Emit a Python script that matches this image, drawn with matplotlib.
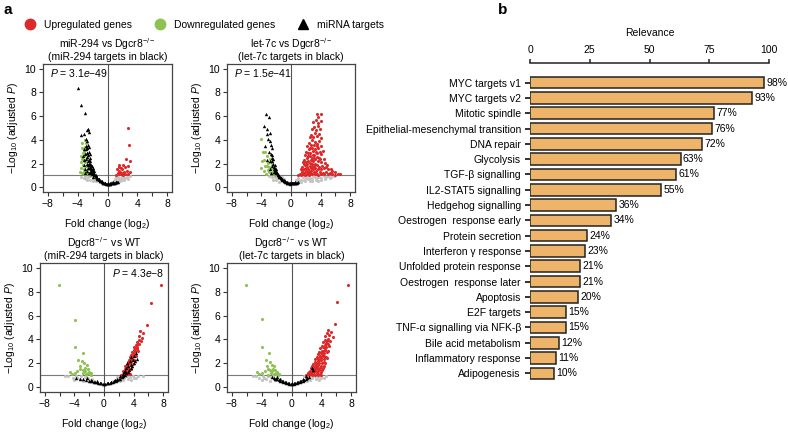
import matplotlib
matplotlib.use("Agg")
import matplotlib.pyplot as plt
from matplotlib.lines import Line2D

plt.rcParams['font.family'] = ['Liberation Sans', 'DejaVu Sans']
plt.rcParams['mathtext.fontset'] = 'custom'
plt.rcParams['mathtext.rm'] = 'Liberation Sans'
plt.rcParams['mathtext.it'] = 'Liberation Sans:italic'
plt.rcParams['mathtext.bf'] = 'Liberation Sans:bold'

# ---------------- data: panel b ----------------
pathways = ["MYC targets v1", "MYC targets v2", "Mitotic spindle",
            "Epithelial-mesenchymal transition", "DNA repair", "Glycolysis",
            "TGF-β signalling", "IL2-STAT5 signalling", "Hedgehog signalling",
            "Oestrogen  response early", "Protein secretion", "Interferon γ response",
            "Unfolded protein response", "Oestrogen  response later", "Apoptosis",
            "E2F targets", "TNF-α signalling via NFK-β", "Bile acid metabolism",
            "Inflammatory response", "Adipogenesis"]
relevance = [98, 93, 77, 76, 72, 63, 61, 55, 36, 34, 24, 23, 21, 21, 20, 15, 15, 12, 11, 10]
relevance_ticks = [0, 25, 50, 75, 100]

# ---------------- data: panel a (volcano points) ----------------
P1_GRAY = [(-3.2,0.8),(-2.9,0.7),(-2.6,0.85),(-2.3,0.6),(-2.0,0.75),(-1.7,0.6),(-3.5,0.9),(-2.4,0.95),
           (-1.5,0.5),(0.6,0.45),(0.9,0.55),(1.2,0.6),(1.5,0.7),(1.8,0.8),(2.1,0.9),(2.4,0.75),(1.7,0.55),
           (2.0,0.65),(2.6,0.85),(3.0,0.95),(1.0,0.7),(1.4,0.85),(2.2,0.6),(-1.9,0.55),(-2.7,0.65),(-3.0,0.95),
           (1.1,0.9),(1.9,0.95),(2.8,0.7)]
P1_GREEN = [(-3.4,1.2),(-3.2,1.5),(-3.5,2.1),(-3.3,2.9),(-3.0,3.4),(-3.4,3.7),(-2.8,3.3),(-3.1,1.1),
            (-2.9,1.8),(-3.2,2.3),(-3.5,1.6),(-2.7,1.2),(-2.5,1.1),(-2.3,1.05),(-3.6,2.6),(-3.0,2.1),
            (-2.8,2.5),(-3.3,1.9),(-2.6,1.5),(-3.1,3.0),(-2.4,1.6),(-3.7,1.3),(-3.0,4.0),(-2.9,3.7),
            (-3.2,1.3),(-2.2,1.15),(-2.0,1.05),(-3.4,2.4),(-3.1,2.65),(-2.95,1.45),(-3.35,3.3),(-2.65,1.85)]
P1_RED = [(1.2,1.05),(1.4,1.2),(1.5,1.1),(1.6,1.4),(1.7,1.3),(1.8,1.6),(1.9,1.2),(2.0,1.5),(2.1,1.9),
          (2.2,1.3),(2.3,1.7),(2.5,2.4),(2.95,2.2),(2.6,1.4),(2.8,1.1),(3.0,1.3),(1.3,1.5),(1.6,1.9),
          (2.4,1.15),(2.7,1.8),(2.93,3.6),(2.7,5.0),(1.5,1.7),(1.8,1.1),(2.1,1.05)]
P1_BLACK = [(1.4,0.47),(1.3,0.45),(1.2,0.43),(1.1,0.42),(1.0,0.40),(0.9,0.38),(0.8,0.37),(0.7,0.35),
            (0.6,0.33),(0.5,0.32),(0.4,0.31),(0.3,0.30),(0.2,0.29),(0.1,0.29),(0.0,0.29),(-0.1,0.30),
            (-0.2,0.31),(-0.3,0.32),(-0.4,0.34),(-0.5,0.36),(-0.6,0.39),(-0.7,0.42),(-0.8,0.46),(-0.9,0.50),
            (-1.0,0.55),(-1.1,0.60),(-1.2,0.66),(-1.3,0.72),(-1.4,0.79),(-1.5,0.86),(-1.6,0.94),(-1.7,1.02),
            (-1.8,1.11),(-1.9,1.20),(-2.0,1.30),(-2.1,1.42),(-2.2,1.55),(-2.3,1.70),(-2.4,1.85),(-2.5,2.00),
            (-2.6,2.25),(-2.7,2.55),(-2.8,2.90),(-2.85,3.20),(-2.9,3.50),
            (0.8,0.42),(0.4,0.36),(0.0,0.34),(-0.4,0.39),(-0.8,0.52),(-1.2,0.73),(-1.6,1.02),(-2.0,1.42),
            (-2.3,1.85),(-2.5,2.3),(-2.7,2.9),(-0.6,0.34),(-1.0,0.50),(-1.4,0.72),(-1.8,1.0),(-2.2,1.35),
            (-2.4,1.6),(-2.6,1.9),
            (-2.2,1.9),(-2.4,2.5),(-2.5,3.0),(-2.3,2.2),(-2.0,1.6),(-1.8,1.4),(-2.6,1.6),(-2.7,2.0),
            (-2.9,2.4),(-3.0,2.8),(-2.2,1.2),(-1.9,0.9),(-2.4,1.3),(-2.6,3.6),(-2.7,3.9),(-2.5,3.4),
            (-2.9,4.1),(-3.1,4.5),(-2.8,4.8),(-2.55,4.9),(-2.45,4.7),(-3.6,4.4),(-3.0,6.25),(-3.55,6.9),
            (-4.0,8.35),(-2.4,2.8),(-2.1,1.8),(-3.2,3.2),(-3.3,2.6),(-3.1,1.9),(-2.8,1.4),(-2.5,1.2),
            (-3.0,1.5),(-2.75,3.3),(-2.65,2.7),(-2.35,2.0),(-2.15,1.65),(-3.1,2.3),(-2.95,1.2),(-2.05,1.1)]

P2_GRAY = [(0.5,0.4),(0.8,0.5),(1.1,0.55),(1.4,0.65),(1.7,0.6),(2.0,0.75),(2.3,0.7),(2.6,0.8),(2.9,0.72),
           (3.2,0.85),(3.5,0.78),(3.8,0.9),(4.1,0.82),(4.4,0.92),(4.7,0.85),(5.0,0.95),(5.4,0.9),(5.8,0.95),
           (1.0,0.8),(1.6,0.9),(2.2,0.95),(2.8,0.55),(3.4,0.6),(4.0,0.65),(1.3,0.45),(2.5,0.5),(0.7,0.65),
           (1.9,0.5),(3.0,0.95),(4.6,0.7),(-0.5,0.45),(-1.0,0.7),(-1.4,0.6),(-1.8,0.8),(-2.2,0.9),
           (-2.6,0.85),(-3.0,0.95),(-1.6,0.45),(-2.0,0.65),(-2.4,0.6),(-1.2,0.85),(3.6,0.5),(5.2,0.75)]
P2_GREEN = [(-4.1,4.1),(-3.8,3.0),(-3.6,2.3),(-3.3,1.8),(-3.7,1.35),(-3.4,1.1),(-2.95,1.25),(-2.75,1.55),
            (-3.05,2.05),(-3.25,2.6),(-2.6,1.1),(-2.4,1.3),(-3.55,1.8),(-3.15,1.45),(-2.85,2.4),
            (-2.55,1.85),(-2.2,1.15),(-4.0,1.6),(-2.95,1.75),(-3.45,2.95),(-2.65,2.15),(-2.35,1.6),
            (-3.85,2.2),(-2.15,1.05)]
P2_RED = [(1.0,1.05),(1.2,1.15),(1.35,1.02),(1.5,1.3),(1.6,1.1),(1.75,1.22),(1.9,1.05),(2.0,1.4),
          (2.15,1.12),(2.3,1.28),(2.45,1.04),(2.6,1.18),(2.75,1.35),(2.9,1.08),(3.05,1.25),(3.2,1.1),
          (3.35,1.38),(3.5,1.15),(3.7,1.05),(3.9,1.3),(4.1,1.12),(4.3,1.22),(4.5,1.08),(4.75,1.3),
          (5.0,1.15),(5.3,1.2),(5.6,1.1),(5.9,1.05),(5.5,1.35),(6.3,1.15),(6.6,1.1),(6.0,1.3),
          (1.3,1.55),(1.55,1.7),(1.7,1.5),(1.85,1.85),(2.05,1.6),(2.2,1.95),(2.35,1.55),(2.5,1.8),
          (2.65,1.62),(2.8,2.0),(2.95,1.52),(3.1,1.78),(3.25,1.6),(3.45,1.9),(3.6,1.55),(3.8,1.75),
          (4.0,1.5),(4.2,1.8),(4.45,1.6),(4.7,1.7),(5.0,1.5),(4.9,1.9),(5.4,1.55),
          (1.6,2.1),(1.8,2.3),(2.0,2.15),(2.15,2.45),(2.3,2.2),(2.5,2.6),(2.65,2.3),(2.8,2.5),(3.0,2.2),
          (3.15,2.7),(3.3,2.35),(3.5,2.55),(3.7,2.2),(3.9,2.4),(4.1,2.15),(4.4,2.35),(4.6,2.05),
          (1.85,2.75),(2.05,3.0),(2.25,2.85),(2.45,3.2),(2.6,2.9),(2.8,3.35),(3.0,3.05),(3.2,3.25),
          (3.4,2.95),(3.6,3.3),(3.85,3.0),(4.1,2.8),(4.3,3.1),
          (2.2,3.5),(2.45,3.75),(2.7,3.6),(2.9,3.95),(3.1,3.55),(3.3,3.8),(3.55,3.65),(3.8,3.9),(4.05,3.5),
          (2.5,4.2),(2.75,4.45),(3.0,4.2),(3.25,4.6),(3.5,4.3),(3.75,4.5),(4.0,4.15),
          (2.8,4.9),(3.1,5.1),(3.4,4.85),(3.7,5.2),(3.95,4.95),
          (3.0,5.5),(3.35,5.7),(3.65,5.45),(4.1,5.6),(3.45,6.2),(3.7,5.95),(4.05,6.2),
          (1.45,1.42),(1.95,1.3),(2.4,1.4),(2.85,1.7),(3.3,1.95),(3.75,2.45),(2.1,1.75),(2.55,2.05),
          (3.05,2.45),(3.55,2.85),(1.7,1.95),(2.35,2.6),(2.95,2.75),(3.45,3.45),(2.6,3.35)]
P2_BLACK = [(0.9,0.42),(0.8,0.40),(0.7,0.38),(0.6,0.36),(0.5,0.35),(0.4,0.34),(0.3,0.33),(0.2,0.32),
            (0.1,0.32),(0.0,0.32),(-0.1,0.33),(-0.2,0.34),(-0.3,0.36),(-0.4,0.38),(-0.5,0.40),(-0.6,0.43),
            (-0.7,0.46),(-0.8,0.50),(-0.9,0.54),(-1.0,0.58),(-1.1,0.63),(-1.2,0.68),(-1.3,0.74),(-1.4,0.80),
            (-1.5,0.87),(-1.6,0.95),(-1.7,1.03),(-1.8,1.12),(-1.9,1.22),(-2.0,1.33),(-2.1,1.45),(-2.2,1.58),
            (-2.3,1.75),(-2.4,1.95),(-2.5,2.2),(-2.6,2.5),(-2.7,2.8),
            (-0.5,0.36),(-1.0,0.52),(-1.4,0.74),(-1.8,1.02),(-2.1,1.3),(-2.3,1.55),(0.3,0.38),(-0.2,0.30),
            (-1.2,0.62),(-1.6,0.86),(-2.0,1.2),(-2.2,1.4),(0.6,0.41),(-0.8,0.45),
            (-3.4,6.2),(-3.0,5.9),(-3.6,5.2),(-3.2,4.9),(-2.9,4.6),(-3.1,4.1),(-2.8,3.9),(-2.6,3.3),
            (-3.0,3.0),(-2.7,3.6),(-2.5,2.7),(-2.8,2.2),(-2.4,2.4),(-2.2,1.9),(-2.6,1.8),(-2.9,1.5),
            (-2.3,1.3),(-2.0,1.5),(-3.3,2.3),(-2.7,1.2),(-3.5,3.5),(-3.3,4.5)]

P3_GRAY = [(-4.8,0.9),(-4.2,0.8),(-3.6,0.75),(-3.1,0.9),(-2.6,0.85),(-2.1,0.8),(-1.6,0.7),(-4.0,0.6),
           (-3.3,0.65),(-2.9,0.55),(-2.0,0.6),(1.5,0.6),(1.9,0.7),(2.3,0.8),(2.7,0.75),(3.1,0.9),
           (3.5,0.85),(3.9,0.95),(4.3,0.8),(1.7,0.85),(2.1,0.55),(2.5,0.6),(3.3,0.7),(2.9,0.95),
           (3.7,0.6),(4.0,0.75),(-1.3,0.55),(1.2,0.5),(4.6,0.9),(5.2,0.95),(-5.2,0.95),(-2.4,0.95),
           (-3.8,0.95)]
P3_GREEN = [(-6.1,8.56),(-3.9,5.6),(-3.9,3.4),(-2.9,2.85),(-3.5,2.3),(-3.0,2.2),(-2.7,2.0),(-3.3,1.8),
            (-2.5,1.6),(-2.2,1.5),(-3.6,1.4),(-2.0,1.3),(-2.8,1.2),(-2.4,1.1),(-1.9,1.1),(-3.9,1.2),
            (-4.3,1.1),(-2.1,1.2),(-2.6,1.35),(-1.7,1.15),(-3.2,1.5),(-2.3,1.9),(-4.6,1.25),(-2.9,1.45),
            (-1.8,1.05)]
P3_RED = [(2.3,1.02),(2.5,1.1),(2.7,1.05),(2.9,1.2),(3.1,1.1),(3.3,1.25),(3.5,1.08),
          (2.6,1.35),(2.8,1.5),(3.0,1.4),(3.2,1.6),(3.4,1.45),(3.6,1.55),
          (2.9,1.75),(3.1,1.9),(3.3,1.8),(3.5,2.0),(3.7,1.85),(3.9,1.95),
          (3.2,2.15),(3.4,2.3),(3.6,2.2),(3.8,2.4),(4.0,2.25),
          (3.5,2.55),(3.7,2.7),(3.9,2.6),(4.1,2.8),(4.3,2.65),
          (3.8,2.95),(4.0,3.1),(4.2,3.0),(4.4,3.2),(4.6,3.05),
          (4.1,3.35),(4.3,3.5),(4.5,3.4),(4.7,3.6),
          (4.5,3.8),(4.75,3.95),(5.0,3.85),(5.1,4.15),
          (4.7,4.3),(4.9,4.7),(5.3,4.5),(5.8,5.25),(6.3,7.08),(7.7,8.56),
          (2.75,1.25),(3.05,1.65),(3.35,2.05),(3.65,2.45),(3.95,2.85),(4.25,3.25),(4.55,3.6)]
P3_BLACK = [(-3.2,0.7),(-2.8,0.65),(-2.4,0.6),(-2.0,0.55),(-1.8,0.52),(-1.6,0.5),(-1.4,0.47),(-1.2,0.43),
            (-1.0,0.4),(-0.8,0.37),(-0.6,0.34),(-0.4,0.32),(-0.2,0.31),(0.0,0.3),(0.2,0.31),(0.4,0.32),
            (0.6,0.34),(0.8,0.37),(1.0,0.4),(1.2,0.44),(1.4,0.48),(1.6,0.53),(1.8,0.58),(2.0,0.65),
            (2.2,0.73),(2.4,0.82),(2.6,0.92),(2.8,1.03),(3.0,1.15),(3.2,1.3),(3.4,1.45),(3.6,1.62),
            (3.8,1.8),(4.0,2.0),(4.2,2.2),(4.4,2.4),(2.5,1.1),(2.9,1.4),(3.3,1.8),(3.1,2.0),(3.5,2.2),
            (3.7,2.5),(3.9,2.3),(4.1,2.6),(3.0,1.6),(2.7,1.3),(3.6,1.9),(4.3,2.9),(2.2,0.9),(1.8,0.7),
            (-2.3,0.75),(-3.8,0.8),(-1.7,0.62),(-1.0,0.5),(-0.5,0.38),(0.5,0.38),(1.0,0.47),(1.5,0.6)]

P4_GRAY = [(-4.8,0.9),(-4.3,0.8),(-3.7,0.75),(-3.2,0.9),(-2.7,0.85),(-2.2,0.6),(-1.6,0.7),(-4.0,0.6),
           (-3.4,0.65),(-2.9,0.55),(-2.0,0.95),(1.5,0.6),(1.9,0.75),(2.3,0.8),(2.7,0.75),(3.1,0.9),
           (3.5,0.85),(3.9,0.95),(4.3,0.8),(1.7,0.9),(2.1,0.55),(2.5,0.6),(3.3,0.7),(2.9,0.95),
           (3.7,0.6),(4.0,0.75),(-1.3,0.55),(1.2,0.5),(4.6,0.9),(-5.2,0.95),(-2.5,0.95),(-3.8,0.95)]
P4_GREEN = [(-6.1,8.56),(-3.9,5.67),(-3.9,3.4),(-3.0,2.85),(-3.4,2.3),(-2.9,2.1),(-2.6,1.9),(-3.3,1.75),
            (-2.5,1.55),(-2.2,1.45),(-3.6,1.4),(-2.0,1.3),(-2.8,1.2),(-2.4,1.1),(-1.9,1.15),(-3.9,1.2),
            (-4.3,1.1),(-2.1,1.2),(-2.6,1.35),(-1.7,1.1),(-3.2,1.5),(-2.3,1.8),(-4.6,1.25),(-2.9,1.45),
            (-1.8,1.05),(-3.1,1.05)]
P4_RED = [(2.0,1.02),(2.2,1.1),(2.4,1.05),(2.6,1.15),(2.8,1.03),(3.0,1.12),(3.2,1.06),(3.4,1.18),
          (3.6,1.04),(3.8,1.1),(4.0,1.05),
          (2.3,1.3),(2.5,1.4),(2.7,1.28),(2.9,1.45),(3.1,1.32),(3.3,1.5),(3.5,1.35),(3.7,1.42),(3.9,1.3),
          (4.1,1.45),
          (2.6,1.6),(2.8,1.75),(3.0,1.62),(3.2,1.8),(3.4,1.68),(3.6,1.85),(3.8,1.6),(4.0,1.75),(4.2,1.65),
          (4.4,1.8),
          (2.9,1.95),(3.1,2.1),(3.3,2.0),(3.5,2.2),(3.7,2.05),(3.9,2.25),(4.1,2.0),(4.3,2.15),(4.5,2.05),
          (3.2,2.35),(3.4,2.5),(3.6,2.4),(3.8,2.6),(4.0,2.45),(4.2,2.65),(4.4,2.4),(4.6,2.55),(4.8,2.45),
          (3.5,2.8),(3.7,2.95),(3.9,2.85),(4.1,3.05),(4.3,2.9),(4.5,3.1),(4.7,2.95),(4.9,3.05),
          (3.85,3.3),(4.05,3.45),(4.25,3.35),(4.45,3.55),(4.65,3.4),(4.85,3.6),(5.05,3.45),
          (4.2,3.8),(4.45,3.95),(4.7,3.85),(4.95,4.05),(5.15,3.9),
          (4.5,4.3),(4.8,4.5),(5.05,4.35),(4.95,4.8),(5.3,4.6),
          (5.85,5.3),(6.1,7.1),(7.6,8.6),(5.5,4.2),
          (2.45,1.22),(2.85,1.55),(3.25,1.9),(3.65,2.3),(4.05,2.75),(4.45,3.25),(3.05,1.4),(3.45,1.95),
          (3.85,2.5),(4.25,3.0),(4.65,3.7),(2.15,1.2),(3.55,1.6),(4.35,2.6)]
P4_BLACK = [(-2.6,0.85),(-2.3,0.78),(-2.1,0.72),(-1.9,0.66),(-1.7,0.6),(-1.5,0.54),(-1.3,0.49),(-1.1,0.44),
            (-0.9,0.4),(-0.7,0.36),(-0.5,0.33),(-0.3,0.31),(-0.1,0.3),(0.1,0.3),(0.3,0.31),(0.5,0.33),
            (0.7,0.36),(0.9,0.4),(1.1,0.44),(1.3,0.49),(1.5,0.55),(1.7,0.62),(1.9,0.7),(2.1,0.79),
            (2.3,0.88),(2.8,1.6),(2.9,1.45),(-2.0,0.82),(-1.6,0.65),(1.6,0.68),(2.0,0.9),
            (-1.2,0.5),(-0.8,0.42),(0.0,0.35),(0.8,0.44),(1.2,0.52),(-0.4,0.37),(0.4,0.37),(-2.2,0.65)]

panels = [
    dict(box=(43, 64, 172, 192), title="miR-294 vs Dgcr8$^{-/-}$\n(miR-294 targets in black)",
         ptext="3.1", pexp="49", pside="left",
         gray=P1_GRAY, green=P1_GREEN, red=P1_RED, black=P1_BLACK),
    dict(box=(227, 64, 355, 192), title="let-7c vs Dgcr8$^{-/-}$\n(let-7c targets in black)",
         ptext="1.5", pexp="41", pside="left",
         gray=P2_GRAY, green=P2_GREEN, red=P2_RED, black=P2_BLACK),
    dict(box=(40, 263, 168, 392), title="Dgcr8$^{-/-}$ vs WT\n(miR-294 targets in black)",
         ptext="4.3", pexp="8", pside="right",
         gray=P3_GRAY, green=P3_GREEN, red=P3_RED, black=P3_BLACK),
    dict(box=(227, 263, 356, 392), title="Dgcr8$^{-/-}$ vs WT\n(let-7c targets in black)",
         ptext=None, pexp=None, pside=None,
         gray=P4_GRAY, green=P4_GREEN, red=P4_RED, black=P4_BLACK),
]

RED = '#DC2A2A'
GREEN = '#8CC24F'
GRAY = '#C4C4C4'
BAR = '#EEB469'
FS = 7.5

W, H = 788, 432
fig = plt.figure(figsize=(W / 100, H / 100), dpi=100)


def px_axes(l, t, r, b):
    return fig.add_axes([l / W, 1 - b / H, (r - l) / W, (b - t) / H])


for p in panels:
    ax = px_axes(*p['box'])
    for key, col, mk, s in (('gray', GRAY, 'o', 5), ('green', GREEN, 'o', 5),
                            ('red', RED, 'o', 5), ('black', 'black', '^', 6)):
        pts = p[key]
        ax.scatter([q[0] for q in pts], [q[1] for q in pts], s=s, c=col, marker=mk,
                   linewidths=0, zorder=3)
    ax.axhline(1, color='#7a7a7a', lw=0.8, zorder=2)
    ax.axvline(0, color='#555555', lw=0.8, zorder=2)
    ax.set_xlim(-8.64, 8.64)
    ax.set_ylim(-0.4, 10.4)
    ax.set_xticks([-8, -4, 0, 4, 8])
    ax.set_xticks([-6, -2, 2, 6], minor=True)
    ax.set_yticks([0, 2, 4, 6, 8, 10])
    ax.tick_params(which='both', direction='out', length=3, width=0.8, labelsize=FS,
                   pad=2, color='#333333')
    for sp in ax.spines.values():
        sp.set_color('#444444')
        sp.set_linewidth(0.9)
    ax.set_title(p['title'], fontsize=FS, pad=3, linespacing=1.0)
    ax.set_xlabel("Fold change (log$_2$)", fontsize=FS, labelpad=6)
    ax.set_ylabel("\u2212Log$_{10}$ (adjusted $P$)", fontsize=FS, labelpad=3)
    if p['ptext']:
        s = f"$P$ = {p['ptext']}$e$\u2212{p['pexp']}"
        if p['pside'] == 'left':
            ax.text(-7.7, 9.6, s, ha='left', va='center', fontsize=7.5)
        else:
            ax.text(8.2, 9.6, s, ha='right', va='center', fontsize=7.5)

# legend
handles = [Line2D([], [], ls='none', marker='o', markersize=7.5, markerfacecolor=RED, markeredgecolor=RED),
           Line2D([], [], ls='none', marker='o', markersize=7.5, markerfacecolor=GREEN, markeredgecolor=GREEN),
           Line2D([], [], ls='none', marker='^', markersize=7.5, markerfacecolor='black', markeredgecolor='black')]
fig.legend(handles, ["Upregulated genes", "Downregulated genes", "miRNA targets"], ncol=3,
           loc='center left', bbox_to_anchor=(20 / W, 1 - 25 / H), frameon=False, fontsize=FS,
           handletextpad=0.8, columnspacing=2.2, handlelength=1.0, borderpad=0)

fig.text(4 / W, 1 - 10 / H, "a", fontsize=11, fontweight='bold', va='center', ha='left')
fig.text(498 / W, 1 - 10 / H, "b", fontsize=11, fontweight='bold', va='center', ha='left')

# bar chart
axb = px_axes(530, 75, 769, 381)
ypos = list(range(len(pathways)))
axb.barh(ypos, relevance, height=0.76, color=BAR, edgecolor='#222222', linewidth=1.1, zorder=3)
for y, v in zip(ypos, relevance):
    axb.text(v + 1.0, y, f"{v}%", va='center', ha='left', fontsize=FS, clip_on=False)
axb.set_xlim(0, 100)
axb.set_ylim(len(pathways) - 0.5, -0.5)
axb.set_yticks(ypos)
axb.set_yticklabels(pathways, fontsize=FS)
axb.set_xticks(relevance_ticks)
axb.xaxis.set_ticks_position('top')
axb.xaxis.set_label_position('top')
axb.set_xlabel("Relevance", fontsize=FS, labelpad=6.5)
axb.tick_params(axis='x', direction='out', length=3, width=1.1, labelsize=FS, pad=3, color='#222222')
axb.tick_params(axis='y', direction='out', length=3.5, width=1.3, pad=3, color='#222222')
for k in ('left', 'right', 'bottom'):
    axb.spines[k].set_visible(False)
axb.spines['top'].set_position(('outward', 8.5))
axb.spines['top'].set_bounds(0, 100)
axb.spines['top'].set_linewidth(1.1)
axb.spines['top'].set_color('#222222')

fig.savefig("out.png", dpi=100)
